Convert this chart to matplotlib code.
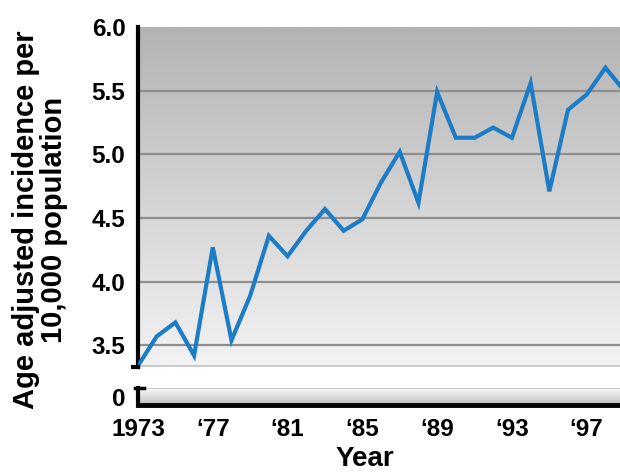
import matplotlib.pyplot as plt
import numpy as np
from matplotlib.colors import LinearSegmentedColormap

plt.rcParams['font.family'] = ['Liberation Sans', 'DejaVu Sans']
plt.rcParams['font.weight'] = 'bold'

# age adjusted incidence per 10,000, by year
years = [1973, 1974, 1975, 1976, 1977, 1978, 1979, 1980, 1981, 1982,
         1983, 1984, 1985, 1986, 1987, 1988, 1989, 1990, 1991, 1992,
         1993, 1994, 1995, 1996, 1997, 1998, 1999]
incidence = [3.34, 3.57, 3.68, 3.42, 4.27, 3.54, 3.89, 4.36, 4.20, 4.40,
             4.57, 4.40, 4.49, 4.78, 5.02, 4.62, 5.49, 5.13, 5.13, 5.21,
             5.13, 5.56, 4.71, 5.35, 5.47, 5.68, 5.50]

xtick_years = [1973, 1977, 1981, 1985, 1989, 1993, 1997]
xtick_labels = ['1973', '\u201877', '\u201881', '\u201885', '\u201889', '\u201893', '\u201897']
ytick_vals = [3.5, 4.0, 4.5, 5.0, 5.5, 6.0]
ytick_labels = ['3.5', '4.0', '4.5', '5.0', '5.5', '6.0']

W, H = 620, 473
fig = plt.figure(figsize=(W / 100, H / 100), dpi=100)

x0, x1 = 1973, 1998.78
y_lo, y_hi = 3.33, 6.0

def box(left, top, right, bottom):
    return [left / W, 1 - bottom / H, (right - left) / W, (bottom - top) / H]

ax = fig.add_axes(box(138, 27, 620, 367))
axb = fig.add_axes(box(138, 388, 620, 405))

# upper panel: dark grey at the top fading to almost white
upper_cmap = LinearSegmentedColormap.from_list('up', ['#f3f3f3', '#b3b3b3'])
grad = np.linspace(0, 1, 256).reshape(-1, 1)
ax.imshow(grad, cmap=upper_cmap, origin='lower', aspect='auto',
          extent=[x0, x1, y_lo, y_hi], zorder=0)
for v in ytick_vals[:-1]:
    ax.axhline(v, color='#8e8e8e', lw=1.6, zorder=1)
ax.axhline(y_lo + 0.01, color='#c4c4c4', lw=1.2, zorder=1)

ax.plot(years, incidence, color='#1c7cc6', lw=3.0, zorder=3,
        solid_joinstyle='miter', clip_on=True)

ax.set_xlim(x0, x1)
ax.set_ylim(y_lo, y_hi)
ax.set_yticks(ytick_vals)
ax.set_yticklabels(ytick_labels)
ax.set_xticks([])
ax.tick_params(axis='y', length=0, pad=9, labelsize=17.5)
for s in ['top', 'right', 'bottom']:
    ax.spines[s].set_visible(False)
ax.spines['left'].set_linewidth(3)
ax.spines['left'].set_color('black')
ax.plot([x0 - 0.25, x0], [y_lo, y_lo], color='black', lw=3,
        clip_on=False, zorder=4)

# lower panel holding the zero
lower_cmap = LinearSegmentedColormap.from_list('lo', ['#bdbdbd', '#fbfbfb'])
axb.imshow(grad, cmap=lower_cmap, origin='lower', aspect='auto',
           extent=[x0, x1, 0, 1], zorder=0)
axb.axhline(1, color='#c6c6c6', lw=1.4, zorder=1)
axb.set_xlim(x0, x1)
axb.set_ylim(0, 1)
axb.set_yticks([0.45])
axb.set_yticklabels(['0'])
axb.set_xticks(xtick_years)
axb.set_xticklabels(xtick_labels)
axb.tick_params(axis='y', length=0, pad=9, labelsize=17.5)
axb.tick_params(axis='x', length=0, pad=9, labelsize=17.5)
axb.spines['top'].set_visible(False)
axb.spines['right'].set_visible(False)
axb.spines['left'].set_linewidth(3)
axb.spines['bottom'].set_linewidth(3.5)
axb.plot([x0 - 0.15, x0 + 0.3], [1, 1], color='black', lw=2.5,
         clip_on=False, zorder=4)

fig.text(40 / W, 1 - 220 / H, 'Age adjusted incidence per\n10,000 population',
         rotation=90, ha='center', va='center', fontsize=21,
         fontweight='bold', linespacing=1.0, multialignment='center')
fig.text(365 / W, 1 - 459 / H, 'Year', ha='center', va='center',
         fontsize=20, fontweight='bold')

fig.savefig('out.png', dpi=100)
